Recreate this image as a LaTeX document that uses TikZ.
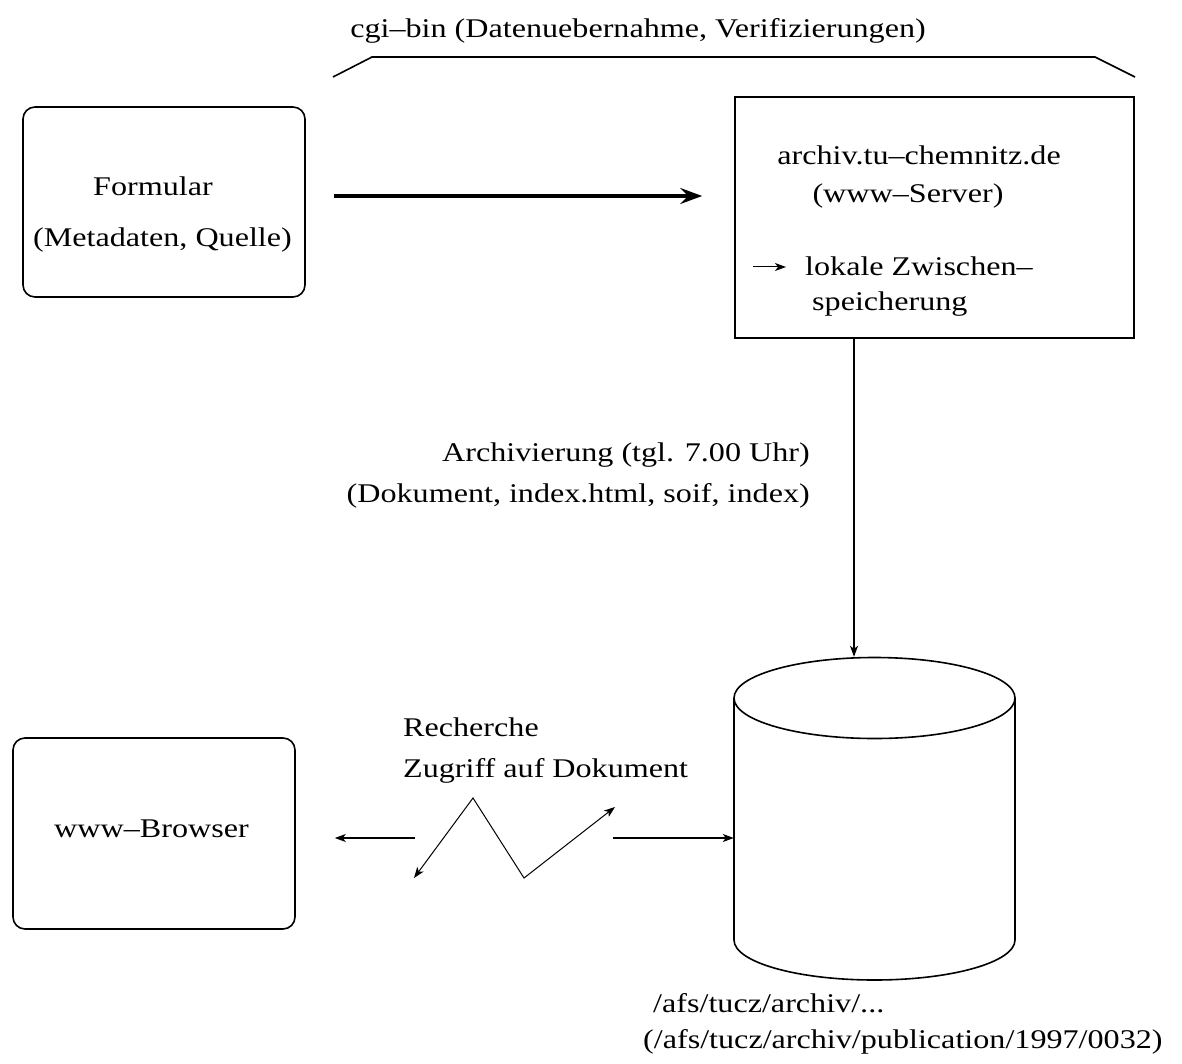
\documentclass[tikz,border=0pt]{standalone}
\usepackage{fontspec}
\setmainfont{Liberation Serif}[FakeStretch=1.19]
\usetikzlibrary{arrows.meta,calc}
\tikzset{
  lbl/.style={inner sep=0pt, font=\fontsize{27pt}{32pt}\selectfont},
  boxline/.style={draw, line width=1.6pt, inner sep=0pt},
  conn/.style={line width=1.3pt, -{Stealth[length=11pt,width=8pt,inset=3pt]}},
  bigarrow/.style={line width=3.5pt, -{Stealth[length=22pt,width=16pt,inset=8pt]}},
  zig/.style={line width=1pt, {Stealth[length=11pt,width=8pt,inset=3pt]}-{Stealth[length=11pt,width=8pt,inset=3pt]}},
  bracketline/.style={line width=1.6pt}
}
\begin{document}
\begin{tikzpicture}[x=1pt,y=-1pt]
\useasboundingbox (0,0) rectangle (1182,1064);

% top label and bracket
\node[lbl, anchor=base] (cgi) at (638,38) {cgi–bin (Datenuebernahme, Verifizierungen)};
\coordinate (b1) at (333,77);
\coordinate (b2) at (372,57);
\coordinate (b3) at (1095,57);
\coordinate (b4) at (1135,77);
\draw[bracketline] (b1) -- (b2) -- (b3) -- (b4);

% Formular box
\node[boxline, rounded corners=12pt, minimum width=282pt, minimum height=190pt] (form) at (164,202) {};
\node[lbl, anchor=base] (formt1) at (153,196) {Formular};
\node[lbl, anchor=base] (formt2) at (162.5,247) {(Metadaten, Quelle)};

% Server box
\node[boxline, minimum width=399pt, minimum height=241pt] (srv) at (934.5,217.5) {};
\node[lbl, anchor=base] (srvt1) at (919,165) {archiv.tu–chemnitz.de};
\node[lbl, anchor=base] (srvt2) at (908,203) {(www–Server)};
\coordinate (sa1) at (753,267);
\coordinate (sa2) at (786,267);
\draw[conn, line width=1pt] (sa1) -- (sa2);
\node[lbl, anchor=base west] (srvt3) at (805,276) {lokale Zwischen–};
\node[lbl, anchor=base west] (srvt4) at (812,310) {speicherung};

% big arrow
\draw[bigarrow, shorten <=28pt, shorten >=32pt] ([yshift=6pt]form.east) -- ([yshift=6pt]form.east -| srv.west);

% database cylinder
\node[inner sep=0pt, minimum width=281pt, minimum height=323pt] (db) at (874.5,818.5) {};
\draw[line width=1.6pt] (874.5,698) ellipse [x radius=140.5pt, y radius=40.5pt];
\draw[line width=1.6pt] (734,698) -- (734,940) arc[start angle=180, end angle=360, x radius=140.5pt, y radius=40pt] -- (1015,698);

% archiving arrow
\draw[conn] (srv.south -| 854,0) -- (db.north -| 854,0);
\node[lbl, anchor=base east] (arch1) at (810,461) {Archivierung (tgl. 7.00 Uhr)};
\node[lbl, anchor=base east] (arch2) at (810,502) {(Dokument, index.html, soif, index)};

% browser box
\node[boxline, rounded corners=12pt, minimum width=282pt, minimum height=191pt] (br) at (154,833.5) {};
\node[lbl, anchor=base] (brt) at (151.5,837) {www–Browser};

% access arrows
\coordinate (c2) at (415,838);
\coordinate (c1) at (613,838);
\draw[conn, shorten >=39pt] (c2) -- (c2 -| br.east);
\draw[conn] (c1) -- (c1 -| db.west);
\coordinate (z1) at (414,878);
\coordinate (z2) at (473,798);
\coordinate (z3) at (524,878);
\coordinate (z4) at (615,807);
\draw[zig] (z1) -- (z2) -- (z3) -- (z4);
\node[lbl, anchor=base west] (rech1) at (403,736) {Recherche};
\node[lbl, anchor=base west] (rech2) at (403,777) {Zugriff auf Dokument};

% path labels
\node[lbl, anchor=base west] (afs1) at (653,1012) {/afs/tucz/archiv/...};
\node[lbl, anchor=base west] (afs2) at (643,1048) {(/afs/tucz/archiv/publication/1997/0032)};
\end{tikzpicture}
\end{document}
